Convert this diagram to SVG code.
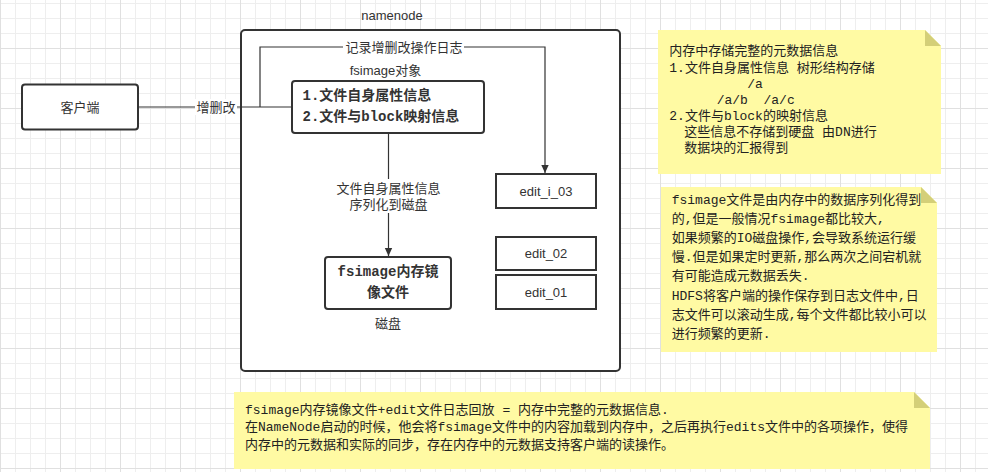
<svg xmlns="http://www.w3.org/2000/svg" width="988" height="472" viewBox="0 0 988 472">
<style>
.lbl{font-family:"Liberation Sans","Noto Sans CJK SC",sans-serif;font-size:13px;fill:#333;}
.mono{font-family:"Liberation Mono","Noto Sans CJK SC",monospace;font-size:13px;fill:#222;white-space:pre;}
.bmono{font-family:"Liberation Mono","Noto Sans CJK SC",monospace;font-size:14px;font-weight:bold;fill:#333;}
.box{fill:#fff;stroke:#333;stroke-width:2;}
.note{fill:#fffaa3;}
.fold{fill:#d4cf78;}
.conn{fill:none;stroke:#333;stroke-width:1.2;}
.lblbg{fill:#fff;}
</style>
<defs>
<pattern id="gmin" width="15" height="15" x="0" y="3" patternUnits="userSpaceOnUse">
<rect x="0" y="0" width="1" height="15" fill="#eeeeee"/>
<rect x="0" y="0" width="15" height="1" fill="#eeeeee"/>
</pattern>
<pattern id="gmaj" width="60" height="60" x="0" y="48" patternUnits="userSpaceOnUse">
<rect x="0" y="0" width="1" height="60" fill="#e0e0e0"/>
<rect x="0" y="0" width="60" height="1" fill="#e0e0e0"/>
</pattern>
<marker id="arr" markerWidth="10" markerHeight="10" refX="9" refY="5" orient="auto" markerUnits="userSpaceOnUse">
<path d="M1,1.3 L9,5 L1,8.7 Z" fill="#333"/>
</marker>
</defs>
<rect width="988" height="472" fill="#fff"/>
<rect width="988" height="472" fill="url(#gmin)"/>
<rect width="988" height="472" fill="url(#gmaj)"/>

<g id="namenode">
<rect class="box" x="241" y="30" width="379" height="341" rx="4"/>
<text class="lbl" x="392" y="15" text-anchor="middle" dominant-baseline="central" font-size="14">namenode</text>
</g>

<g id="client">
<rect class="box" x="22" y="84.5" width="116" height="45" rx="3"/>
<text class="lbl" x="80" y="107" text-anchor="middle" dominant-baseline="central">客户端</text>
</g>

<g id="connectors">
<path class="conn" d="M138,107 L292,107"/>
<rect class="lblbg" x="195" y="99" width="42" height="16"/>
<text class="lbl" x="216" y="107" text-anchor="middle" dominant-baseline="central">增删改</text>
<path class="conn" d="M260,107 L260,47 L545,47 L545,173" marker-end="url(#arr)"/>
<rect class="lblbg" x="343" y="39" width="121" height="16"/>
<text class="lbl" x="404" y="47" text-anchor="middle" dominant-baseline="central">记录增删改操作日志</text>
<path class="conn" d="M388.5,133 L388.5,256" marker-end="url(#arr)"/>
<rect class="lblbg" x="335" y="179" width="107" height="34"/>
<text class="lbl" x="388.5" y="188.3" text-anchor="middle" dominant-baseline="central">文件自身属性信息</text>
<text class="lbl" x="388.5" y="204.3" text-anchor="middle" dominant-baseline="central">序列化到磁盘</text>
</g>

<g id="fsimage-obj">
<text class="lbl" x="385.5" y="70.7" text-anchor="middle" dominant-baseline="central" font-size="13.5">fsimage对象</text>
<rect class="box" x="292" y="81" width="192" height="52" rx="3"/>
<text class="bmono" x="302.5" y="96" dominant-baseline="central">1.文件自身属性信息</text>
<text class="bmono" x="302.5" y="117" dominant-baseline="central">2.文件与block映射信息</text>
</g>

<g id="fsimage-file">
<rect class="box" x="325" y="257" width="126" height="52" rx="3"/>
<text class="bmono" x="388" y="271.7" text-anchor="middle" dominant-baseline="central">fsimage内存镜</text>
<text class="bmono" x="388" y="292.7" text-anchor="middle" dominant-baseline="central">像文件</text>
<text class="lbl" x="388" y="323.3" text-anchor="middle" dominant-baseline="central">磁盘</text>
</g>

<g id="edit_i_03">
<rect class="box" x="496" y="174" width="100" height="34"/>
<text class="lbl" x="546" y="191" text-anchor="middle" dominant-baseline="central">edit_i_03</text>
</g>
<g id="edit_02">
<rect class="box" x="496" y="237" width="100" height="33"/>
<text class="lbl" x="546" y="253.5" text-anchor="middle" dominant-baseline="central">edit_02</text>
</g>
<g id="edit_01">
<rect class="box" x="496" y="275" width="100" height="34"/>
<text class="lbl" x="546" y="292" text-anchor="middle" dominant-baseline="central">edit_01</text>
</g>

<g id="note1">
<path class="note" d="M658,30 H925 L941,46 V174 H658 Z"/>
<path class="fold" d="M925,30 V46 H941 Z"/>
<g class="mono" dominant-baseline="central">
<text x="669.3" y="51.7">内存中存储完整的元数据信息</text>
<text x="669.3" y="68.3">1.文件自身属性信息 树形结构存储</text>
<text x="747.3" y="84">/a</text>
<text x="716.7" y="100.7" xml:space="preserve">/a/b  /a/c</text>
<text x="669.3" y="116.7">2.文件与block的映射信息</text>
<text x="684.3" y="132.7">这些信息不存储到硬盘 由DN进行</text>
<text x="684.3" y="148.3">数据块的汇报得到</text>
</g>
</g>

<g id="note2">
<path class="note" d="M661,187 H921 L937,203 V352 H661 Z"/>
<path class="fold" d="M921,187 V203 H937 Z"/>
<g class="mono" dominant-baseline="central">
<text x="671.7" y="200">fsimage文件是由内存中的数据序列化得到</text>
<text x="671.7" y="219.2">的,但是一般情况fsimage都比较大,</text>
<text x="671.7" y="238.4">如果频繁的IO磁盘操作,会导致系统运行缓</text>
<text x="671.7" y="257.6">慢.但是如果定时更新,那么两次之间宕机就</text>
<text x="671.7" y="276.8">有可能造成元数据丢失.</text>
<text x="671.7" y="296">HDFS将客户端的操作保存到日志文件中,日</text>
<text x="671.7" y="315.2">志文件可以滚动生成,每个文件都比较小可以</text>
<text x="671.7" y="334.4">进行频繁的更新.</text>
</g>
</g>

<g id="note3">
<path class="note" d="M234,392 H914 L930,408 V469 H234 Z"/>
<path class="fold" d="M914,392 V408 H930 Z"/>
<g class="mono" dominant-baseline="central">
<text x="245" y="410" xml:space="preserve">fsimage内存镜像文件+edit文件日志回放 = 内存中完整的元数据信息.</text>
<text x="245" y="427.7">在NameNode启动的时候，他会将fsimage文件中的内容加载到内存中，之后再执行edits文件中的各项操作，使得</text>
<text x="245" y="445">内存中的元数据和实际的同步，存在内存中的元数据支持客户端的读操作。</text>
</g>
</g>
</svg>
